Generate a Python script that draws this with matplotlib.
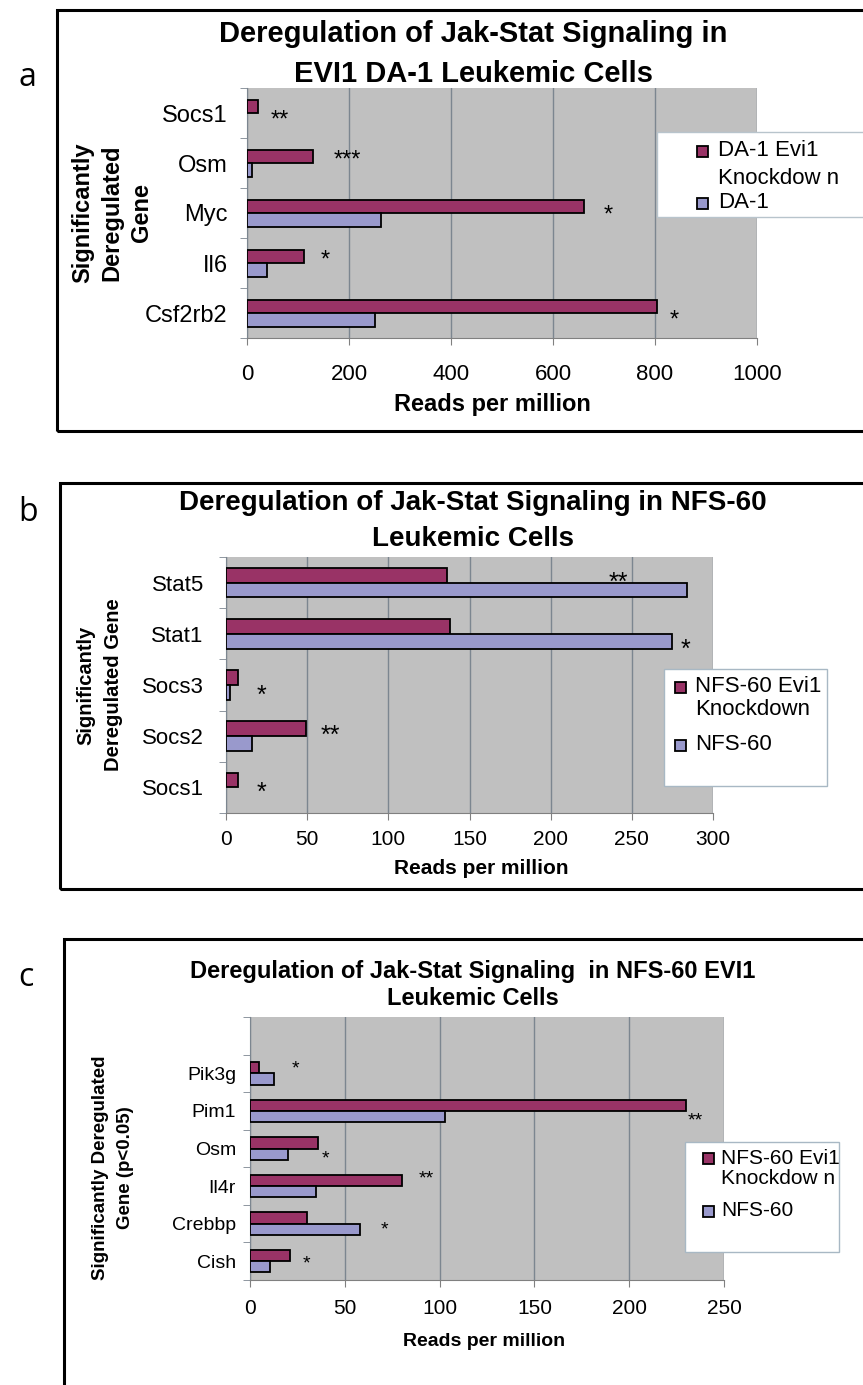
import matplotlib
matplotlib.use("Agg")
import matplotlib.pyplot as plt
from matplotlib.patches import Rectangle
import numpy as np

# ---- panel a: DA-1 cells ----
genes_a = ["Socs1", "Osm", "Myc", "Il6", "Csf2rb2"]
kd_a = [22, 129, 660, 111, 804]
ctrl_a = [0, 10, 263, 39, 251]
stars_a = ["**", "***", "*", "*", "*"]
star_x_a = [64, 196, 709, 153, 838]
star_dy_a = [0.0, -0.2, -0.1, -0.2, 0.0]
xticks_a = [0, 200, 400, 600, 800, 1000]

# ---- panel b: NFS-60 cells ----
genes_b = ["Stat5", "Stat1", "Socs3", "Socs2", "Socs1"]
kd_b = [136, 138, 7.5, 49, 7.5]
ctrl_b = [284, 275, 2.7, 16, 0]
stars_b = ["**", "*", "*", "**", "*"]
star_x_b = [242, 283, 22, 64, 22]
star_dy_b = [-0.145, 0.15, 0.06, -0.16, -0.04]
xticks_b = [0, 50, 100, 150, 200, 250, 300]

# ---- panel c: NFS-60 EVI1 cells ----
genes_c = ["Pik3g", "Pim1", "Osm", "Il4r", "Crebbp", "Cish"]
kd_c = [5, 230, 36, 80, 30, 21]
ctrl_c = [12.5, 103, 20, 35, 58, 10.5]
stars_c = ["*", "**", "*", "**", "*", "*"]
star_x_c = [24, 235, 40, 93, 71, 30]
star_dy_c = [-0.28, 0.1, 0.1, -0.35, 0.0, -0.1]
xticks_c = [0, 50, 100, 150, 200, 250]

KD_COLOR = "#993366"
CTRL_COLOR = "#9999CC"
PLOT_BG = "#C0C0C0"
GRID = "#7C8690"

plt.rcParams["font.family"] = ["Liberation Sans", "DejaVu Sans"]

W, H = 863, 1385
fig = plt.figure(figsize=(W / 100, H / 100), dpi=100)
fig.patch.set_facecolor("white")


def fx(x):
    return x / W


def fy(y):
    return 1 - y / H


def px_axes(l, t, r, b):
    return fig.add_axes([fx(l), fy(b), (r - l) / W, (b - t) / H])


def frame(l, t, r, b, lw=2.0, ec="black", fc="none", z=0):
    fig.patches.append(Rectangle((fx(l), fy(b)), (r - l) / W, (b - t) / H,
                                 transform=fig.transFigure, fill=(fc != "none"),
                                 facecolor=fc, edgecolor=ec, linewidth=lw,
                                 zorder=z))


def panel(ax, genes, kd, ctrl, bar_h, xmax, xticks, top_pad, tick_fs, xt_fs,
          stars, star_x, star_dy, star_fs, ylab_pad, xlab_pad):
    n = len(genes)
    y = np.arange(n)
    ec_ctrl = ["black" if v > 0 else "none" for v in ctrl]
    ax.barh(y - bar_h / 2, kd, height=bar_h, color=KD_COLOR,
            edgecolor="black", linewidth=1.3, zorder=3)
    ax.barh(y + bar_h / 2, ctrl, height=bar_h, color=CTRL_COLOR,
            edgecolor=ec_ctrl, linewidth=1.3, zorder=3)
    ax.set_facecolor(PLOT_BG)
    ax.set_xlim(0, xmax)
    ax.set_ylim(n - 0.5, -0.5 - top_pad)
    ax.set_xticks(xticks)
    ax.set_xticklabels([str(t) for t in xticks], fontsize=xt_fs)
    ax.set_yticks(y)
    ax.set_yticklabels(genes, fontsize=tick_fs)
    ax.set_yticks(np.arange(-0.5 - top_pad, n, 1.0), minor=True)
    ax.tick_params(axis="y", which="major", length=0, pad=ylab_pad)
    ax.tick_params(axis="y", which="minor", length=5, color=GRID,
                   direction="out")
    ax.tick_params(axis="x", length=5, color="#808080", direction="out",
                   pad=xlab_pad)
    ax.grid(axis="x", color=GRID, linewidth=1.0, zorder=1)
    ax.set_axisbelow(True)
    for s in ("top", "right"):
        ax.spines[s].set_visible(False)
    ax.spines["left"].set_color(GRID)
    ax.spines["bottom"].set_color("#808080")
    for s, x, dy, i in zip(stars, star_x, star_dy, range(n)):
        ax.annotate(s, xy=(x, i + dy), xytext=(0, -0.32 * star_fs),
                    textcoords="offset points", ha="center", va="center",
                    fontsize=star_fs, zorder=5, annotation_clip=False)


def legend(l, t, r, b, sq_x, text_x, rows, fs, ec):
    frame(l, t, r, b, lw=1.0, ec=ec, fc="white", z=5)
    for kind, label, yy in rows:
        if kind is not None:
            s = 11
            fig.patches.append(Rectangle((fx(sq_x - s / 2), fy(yy + s / 2)),
                                         s / W, s / H,
                                         transform=fig.transFigure,
                                         facecolor=kind, edgecolor="black",
                                         linewidth=1.3, zorder=6))
        fig.text(fx(text_x), fy(yy), label, fontsize=fs, ha="left",
                 va="center", zorder=7)


# outer frames
frame(57, 10, 900, 431, lw=2.2)
frame(60, 483, 900, 889, lw=2.2)
frame(64, 939, 900, 1420, lw=2.2)

# panel letters
for letter, yy in (("a", 77), ("b", 513), ("c", 978)):
    fig.text(fx(18), fy(yy), letter, fontsize=23, family=["Open Sans"],
             ha="left", va="center")

# ---- a ----
ax_a = px_axes(247, 88, 757, 338)
panel(ax_a, genes_a, kd_a, ctrl_a, 0.27, 1000, xticks_a, 0.0, 17, 16,
      stars_a, star_x_a, star_dy_a, 17, 14, 14)
fig.text(fx(473), fy(54), "Deregulation of Jak-Stat Signaling in\nEVI1 DA-1 Leukemic Cells",
         fontsize=21, fontweight="bold", ha="center", va="center",
         linespacing=1.55)
ax_a.set_xlabel("Reads per million", fontsize=17, fontweight="bold")
ax_a.xaxis.set_label_coords((492 - 247) / 510, -(405 - 338) / 250)
ax_a.xaxis.label.set_va("center")
ax_a.set_ylabel("Significantly\nDeregulated\nGene", fontsize=17,
                fontweight="bold", linespacing=1.35)
ax_a.yaxis.set_label_coords((112 - 247) / 510, 0.5)
ax_a.yaxis.label.set_va("center")
legend(657, 132, 900, 217, 702, 718,
       [(KD_COLOR, "DA-1 Evi1", 151), (None, "Knockdow n", 178),
        (CTRL_COLOR, "DA-1", 203)], 16, "#B8C4CC")

# ---- b ----
ax_b = px_axes(226, 557, 713, 813)
panel(ax_b, genes_b, kd_b, ctrl_b, 0.29, 300, xticks_b, 0.0, 16, 15,
      stars_b, star_x_b, star_dy_b, 18, 16, 7)
fig.text(fx(473), fy(521), "Deregulation of Jak-Stat Signaling in NFS-60\nLeukemic Cells",
         fontsize=20, fontweight="bold", ha="center", va="center",
         linespacing=1.5)
ax_b.set_xlabel("Reads per million", fontsize=15, fontweight="bold")
ax_b.xaxis.set_label_coords((481 - 226) / 487, -(868 - 813) / 256)
ax_b.xaxis.label.set_va("center")
ax_b.set_ylabel("Significantly\nDeregulated Gene", fontsize=14.5,
                fontweight="bold", linespacing=1.55)
ax_b.yaxis.set_label_coords((100 - 226) / 487, 0.5)
ax_b.yaxis.label.set_va("center")
legend(664, 669, 827, 786, 680, 695,
       [(KD_COLOR, "NFS-60 Evi1", 687), (None, "Knockdown", 710),
        (CTRL_COLOR, "NFS-60", 745)], 16, "#A8B8C4")

# ---- c ----
ax_c = px_axes(250, 1017, 724, 1280)
panel(ax_c, genes_c, kd_c, ctrl_c, 0.30, 250, xticks_c, 1.0, 14, 15,
      stars_c, star_x_c, star_dy_c, 14, 10, 9)
fig.text(fx(473), fy(985), "Deregulation of Jak-Stat Signaling  in NFS-60 EVI1\nLeukemic Cells",
         fontsize=17, fontweight="bold", ha="center", va="center",
         linespacing=1.2)
ax_c.set_xlabel("Reads per million", fontsize=14, fontweight="bold")
ax_c.xaxis.set_label_coords((484 - 250) / 474, -(1342 - 1280) / 263)
ax_c.xaxis.label.set_va("center")
ax_c.set_ylabel("Significantly Deregulated\nGene (p<0.05)", fontsize=13.5,
                fontweight="bold", linespacing=1.6)
ax_c.yaxis.set_label_coords((113 - 250) / 474, 0.426)
ax_c.yaxis.label.set_va("center")
legend(685, 1142, 839, 1252, 708, 721,
       [(KD_COLOR, "NFS-60 Evi1", 1158), (None, "Knockdow n", 1179),
        (CTRL_COLOR, "NFS-60", 1211)], 15, "#A8B8C4")

fig.savefig("out.png", dpi=100, facecolor="white")
